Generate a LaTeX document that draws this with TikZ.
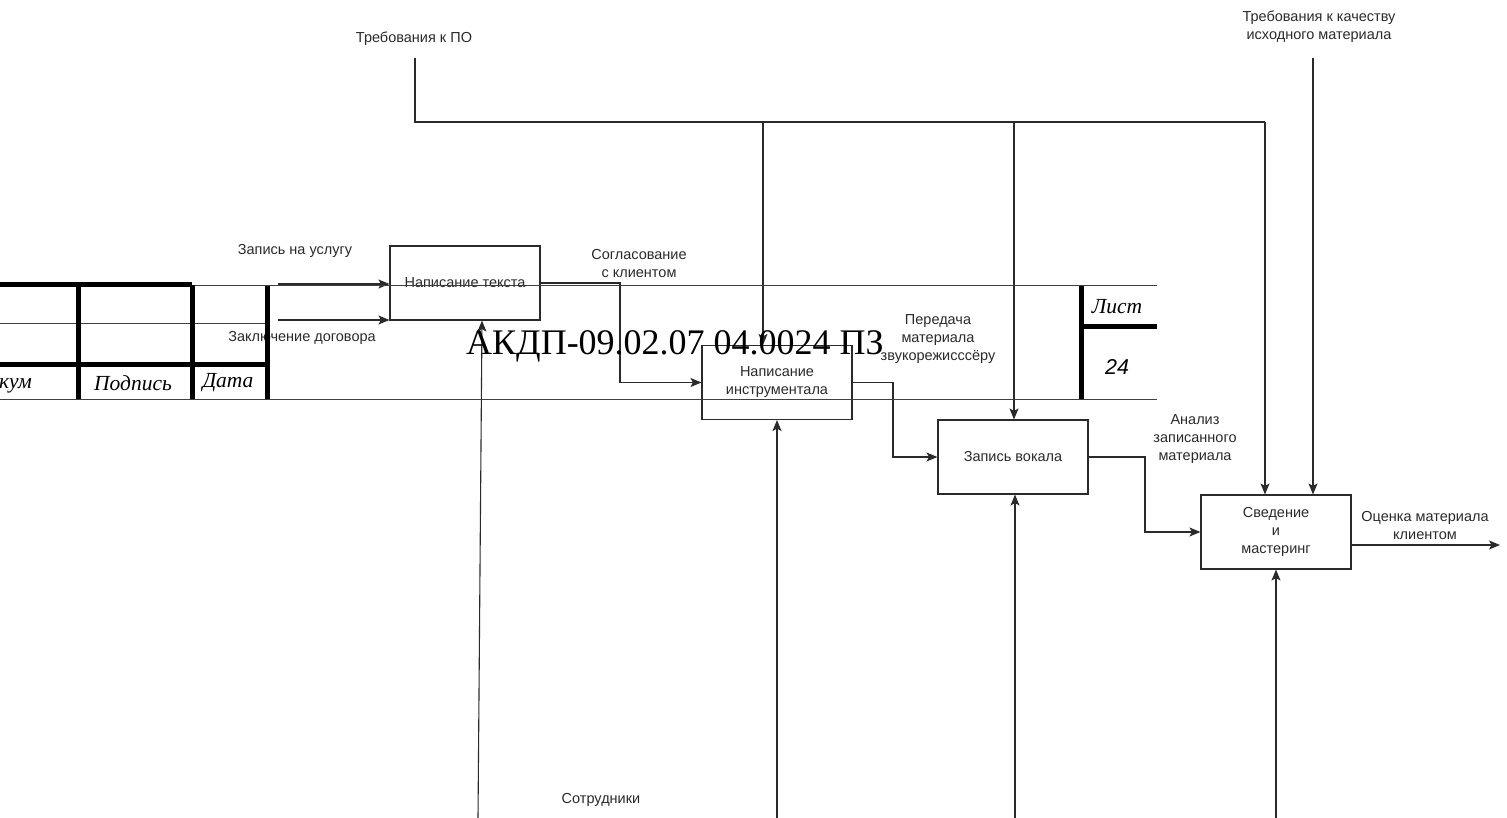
\documentclass[tikz,border=0pt]{standalone}
\usepackage{fontspec}
\setmainfont{Liberation Serif}
\newfontfamily\lsans{Liberation Sans}
\usetikzlibrary{arrows.meta}
\definecolor{ink}{HTML}{2A2A2A}
\begin{document}
\begin{tikzpicture}[x=1pt,y=-1pt,
  proc/.style={draw=ink,line width=1.1pt,rectangle,minimum width=150pt,minimum height=74pt,inner sep=0pt,align=center,font=\lsans\fontsize{14.5}{18}\selectfont,text=ink},
  lbl/.style={inner sep=0pt,align=center,font=\lsans\fontsize{14.5}{18}\selectfont,text=ink},
  conn/.style={draw=ink,line width=1.1pt},
  arr/.style={conn,-{Stealth[length=11pt,width=9pt,inset=2.5pt]}},
  thin/.style={draw=black!75,line width=1pt},
  thick/.style={draw=black,line width=5pt},
  stamp/.style={inner sep=0pt,font=\itshape\fontsize{21.5}{24}\selectfont}
]
\useasboundingbox (0,0) rectangle (1507,818);
\clip (0,0) rectangle (1507,818);

% processes
\node[proc] (A) at (465,283) {Написание текста};
\node[proc] (B) at (777,382.5) {Написание\\инструментала};
\node[proc] (C) at (1013,457) {Запись вокала};
\node[proc] (D) at (1276,532) {Сведение\\и\\мастеринг};

% labels
\node[lbl] (lTPO) at (414,39) {Требования к ПО};
\node[lbl] (lTQ) at (1319,27) {Требования к качеству\\исходного материала};
\node[lbl] (lZU) at (295,251) {Запись на услугу};
\node[lbl] (lZD) at (302,338) {Заключение договора};
\node[lbl] (lSK) at (639,264) {Согласование\\с клиентом};
\node[lbl] (lPM) at (938,339) {Передача\\материала\\звукорежисссёру};
\node[lbl] (lAZ) at (1195,439) {Анализ\\записанного\\материала};
\node[lbl] (lOM) at (1425,526) {Оценка материала\\клиентом};
\node[lbl] (lST) at (601,800) {Сотрудники};

% coordinates
\coordinate (in1) at (278,284);
\coordinate (in2) at (278,320);
\coordinate (ab) at (620,0);
\coordinate (bc) at (893,0);
\coordinate (cd) at (1145,0);
\coordinate (out) at (1500,545);
\coordinate (t1) at (415,58);
\coordinate (t1b) at (415,122);
\coordinate (c1) at (763,122);
\coordinate (c2) at (1014,122);
\coordinate (c3) at (1265,122);
\coordinate (q) at (1313,58);
\coordinate (m1) at (478,818);
\coordinate (m1t) at (482,0);
\coordinate (m2) at (777,818);
\coordinate (m3) at (1015,818);
\coordinate (m4) at (1276,818);

% inputs / outputs
\draw[arr] (in1) -- (in1 -| A.west);
\draw[arr] (in2) -- (in2 -| A.west);
\draw[arr] (A.east) -| (ab |- B.west) -- (B.west);
\draw[arr] (B.east) -| (bc |- C.west) -- (C.west);
\draw[arr] (C.east) -| (cd |- D.west) -- (D.west);
\draw[arr] (D.east |- out) -- (out);

% controls
\draw[conn] (t1) -- (t1b) -- (c3);
\draw[arr] (c1) -- (c1 |- B.north);
\draw[arr] (c2) -- (c2 |- C.north);
\draw[arr] (c3) -- (c3 |- D.north);
\draw[arr] (q) -- (q |- D.north);

% mechanisms
\draw[arr] (m1) -- (m1t |- A.south);
\draw[arr] (m2) -- (B.south);
\draw[arr] (m3) -- (m3 |- C.south);
\draw[arr] (m4) -- (D.south);

% stamp frame
\coordinate (s0) at (0,286);
\coordinate (s1) at (1157,286);
\coordinate (s2) at (0,399);
\coordinate (s3) at (1157,399);
\draw[thin] (s0) -- (s1);
\draw[thin] (s2) -- (s3);
\draw[thin] (0,323) -- (267,323);
\draw[thick] (0,285) -- (192,285);
\draw[thick] (0,364) -- (267,364);
\draw[thick] (78,285) -- (78,399);
\draw[thick] (192,285) -- (192,399);
\draw[thick] (267,286) -- (267,399);
\draw[thick] (1081,286) -- (1081,399);
\draw[thick] (1081,326) -- (1157,326);

\node[stamp,anchor=east] (sDoc) at (32,383) {№ докум};
\node[stamp] (sPod) at (133,383) {Подпись};
\node[stamp] (sDat) at (228,383) {Дата};
\node[stamp] (sList) at (1117,307) {Лист};
\node[inner sep=0pt,font=\lsans\itshape\fontsize{21.5}{24}\selectfont] (sNum) at (1117,367) {24};

\node[inner sep=0pt,font=\fontsize{36}{40}\selectfont] (code) at (675,346) {АКДП-09.02.07 04.0024 ПЗ};
\end{tikzpicture}
\end{document}
